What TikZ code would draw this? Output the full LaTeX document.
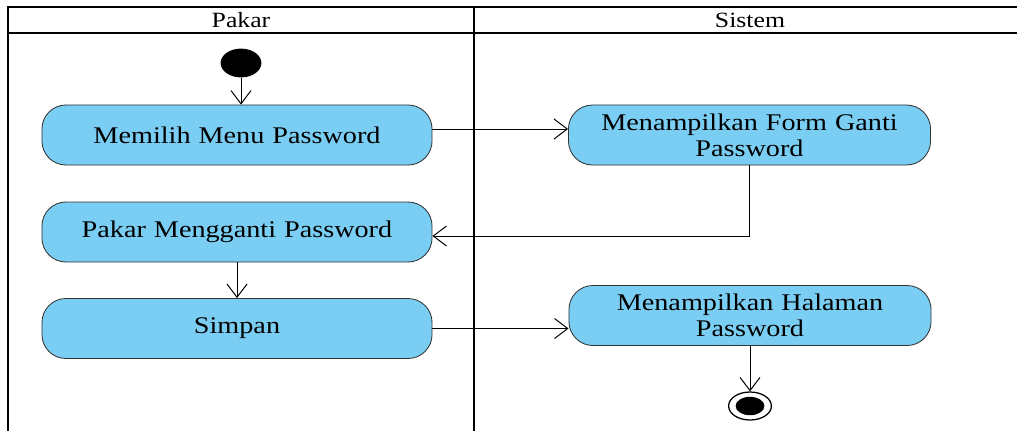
\documentclass[tikz,border=0pt]{standalone}
\usepackage{fontspec}
\setmainfont{Liberation Serif}[FakeStretch=1.18]
\usepackage{tikz}
\usetikzlibrary{arrows.meta,shapes.geometric}
\definecolor{actblue}{RGB}{122,206,243}
\tikzstyle{activity} = [rectangle, rounded corners=0.6cm, minimum width=9.75cm, minimum height=1.5cm, text width=9.2cm, align=center, draw=black!80, line width=0.6pt, fill=actblue, font=\fontsize{17}{18.5}\selectfont]
\tikzstyle{sysactivity} = [activity, minimum width=9.05cm, text width=8.6cm]
\tikzstyle{lane} = [line width=2pt, draw=black]
\tikzstyle{lanetitle} = [font=\fontsize{15.5}{17}\selectfont]
\begin{document}
\begin{tikzpicture}[x=0.025cm, y=-0.025cm]
    \tikzset{myptr/.style={-{Straight Barb[length=0.33cm,width=0.5cm]}, line width=0.7pt}}
    \useasboundingbox (0,0) rectangle (1017,430);
    % swimlanes
    \draw [lane] (1025,7) -- (8,7) -- (8,440);
    \draw [lane] (8,33) -- (1025,33);
    \draw [lane] (474,7) -- (474,440);
    \node (pakar) [lanetitle] at (241,20) {Pakar};
    \node (sistem) [lanetitle] at (750,20) {Sistem};

    \node (start) [ellipse, fill=black, minimum width=1.02cm, minimum height=0.72cm, inner sep=0pt] at (241,63) {};
    \node (pilih) [activity] at (237,135) {Memilih Menu Password};
    \node (ganti) [activity] at (237,232) {Pakar Mengganti Password};
    \node (simpan) [activity] at (237,328.5) {Simpan};
    \node (form) [sysactivity] at (749.5,135) {Menampilkan Form Ganti\\Password};
    \node (halaman) [sysactivity] at (750,315.5) {Menampilkan Halaman\\Password};
    \node (end) [ellipse, draw=black, line width=0.9pt, fill=white, minimum width=1.07cm, minimum height=0.7cm, inner sep=0pt] at (750,406) {};
    \node (endin) [ellipse, fill=black, minimum width=0.72cm, minimum height=0.46cm, inner sep=0pt] at (end.center) {};

    \draw [myptr] (start.south) -- (start.south |- pilih.north);
    \draw [myptr] ([yshift=0.15cm]pilih.east) -- ([yshift=0.15cm]form.west);
    \draw [myptr] (form.south) |- ([yshift=-0.1cm]ganti.east);
    \draw [myptr] (ganti.south) -- (simpan.north);
    \draw [myptr] (simpan.east) -- (simpan.east -| halaman.west);
    \draw [myptr] (halaman.south) -- (end.north);
\end{tikzpicture}
\end{document}
